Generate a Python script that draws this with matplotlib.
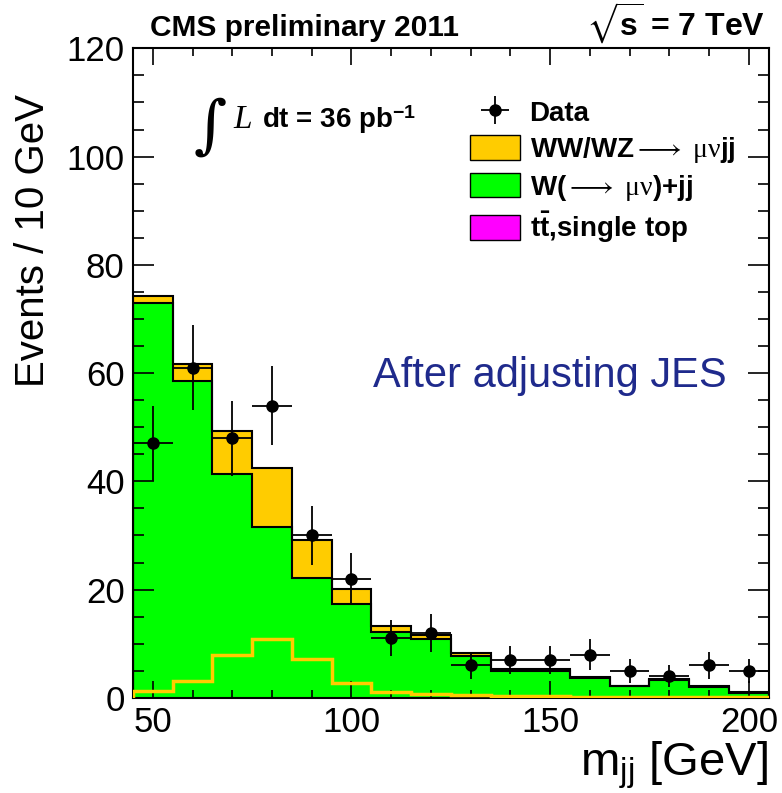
import numpy as np
import matplotlib
matplotlib.use("Agg")
import matplotlib.pyplot as plt
from matplotlib.ticker import MultipleLocator
from matplotlib.patches import Patch

plt.rcParams['font.family'] = ['Liberation Sans', 'DejaVu Sans']
plt.rcParams['mathtext.fontset'] = 'custom'
plt.rcParams['mathtext.rm'] = 'Liberation Serif'
plt.rcParams['mathtext.it'] = 'Liberation Serif:italic'
plt.rcParams['mathtext.bf'] = 'Liberation Sans:bold'
plt.rcParams['mathtext.fallback'] = 'stix'

# Data (bins of 10 GeV from 45 to 205)
bin_edges = [45, 55, 65, 75, 85, 95, 105, 115, 125, 135, 145, 155, 165, 175, 185, 195, 205]
bin_centers = [50, 60, 70, 80, 90, 100, 110, 120, 130, 140, 150, 160, 170, 180, 190, 200]
data = [47, 61, 48, 54, 30, 22, 11, 12, 6, 7, 7, 8, 5, 4, 6, 5]
wjj = [73.0, 58.5, 41.3, 31.6, 22.1, 17.4, 12.1, 10.9, 7.7, 5.0, 5.0, 3.7, 2.1, 3.3, 2.05, 0.9]
diboson = [1.2, 3.2, 8.0, 10.9, 7.1, 2.7, 1.1, 0.8, 0.5, 0.3, 0.3, 0.2, 0.15, 0.15, 0.1, 0.1]
ttbar = [0.0, 0.0, 0.0, 0.0, 0.0, 0.0, 0.0, 0.0, 0.0, 0.0, 0.0, 0.0, 0.0, 0.0, 0.0, 0.0]

edges = np.array(bin_edges)
top_stack = np.array(ttbar)
green_stack = top_stack + np.array(wjj)
total = green_stack + np.array(diboson)

fig = plt.figure(figsize=(7.82, 7.93), dpi=100)
ax = fig.add_axes([0.170, 0.120, 0.813, 0.819])

ax.stairs(total, edges, fill=True, facecolor='#ffcc00', edgecolor='none')
ax.stairs(green_stack, edges, fill=True, facecolor='#00ff00', edgecolor='none')
ax.stairs(top_stack, edges, fill=True, facecolor='#ff00ff', edgecolor='none')
ax.stairs(total, edges, color='black', lw=1.5)
ax.stairs(green_stack, edges, color='black', lw=1.5)
ax.stairs(diboson, edges, color='#ffcc00', lw=2.5, zorder=3)

err = ax.errorbar(bin_centers, data, yerr=np.sqrt(data), xerr=5, fmt='o', color='black',
                  ms=8, elinewidth=1.3, capsize=0, zorder=5, label='Data')

ax.set_xlim(45, 205)
ax.set_ylim(0, 120)
ax.xaxis.set_major_locator(MultipleLocator(50))
ax.xaxis.set_minor_locator(MultipleLocator(10))
ax.yaxis.set_major_locator(MultipleLocator(20))
ax.yaxis.set_minor_locator(MultipleLocator(5))
ax.tick_params(which='both', direction='in', top=True, right=True, width=1.2, labelsize=25)
ax.tick_params(axis='x', which='major', length=12, pad=6)
ax.tick_params(axis='x', which='minor', length=6)
ax.tick_params(axis='y', which='major', length=15, pad=6)
ax.tick_params(axis='y', which='minor', length=8)
for s in ax.spines.values():
    s.set_linewidth(1.5)

fig.text(33 / 782, 1 - 94 / 793, 'Events / 10 GeV', rotation=90, ha='center', va='top', fontsize=29)
fig.text(768 / 782, 1 - 776 / 793, r'm$_{\mathregular{jj}}$ [GeV]', ha='right', va='baseline', fontsize=34)

fig.text(150 / 782, 1 - 36 / 793, 'CMS preliminary 2011', fontsize=21.5, fontweight='bold', va='baseline')
fig.text(765 / 782, 1 - 36 / 793, r'$\sqrt{\mathbf{s}}$ = 7 TeV', fontsize=23, fontweight='bold',
         ha='right', va='baseline')

fig.text(194 / 782, 1 - 146 / 793, '\u222b', fontsize=46, family='DejaVu Serif', va='baseline')
fig.text(233 / 782, 1 - 128 / 793, r'$L$', fontsize=24, va='baseline')
fig.text(262 / 782, 1 - 128 / 793, r'dt = 36 pb$^{\mathbf{-1}}$', fontsize=20, fontweight='bold', va='baseline')

fig.text(373 / 782, 1 - 387 / 793, 'After adjusting JES', fontsize=30, color='#1f2a8c', va='baseline')

handles = [err,
           Patch(facecolor='#ffcc00', edgecolor='black', lw=1),
           Patch(facecolor='#00ff00', edgecolor='black', lw=1),
           Patch(facecolor='#ff00ff', edgecolor='black', lw=1)]
labels = ['Data',
          r'WW/WZ$\longrightarrow$ $\mathrm{\mu\nu}$jj',
          r'W($\longrightarrow$ $\mathrm{\mu\nu}$)+jj',
          r't$\mathbf{\bar{t}}$,single top']
leg = ax.legend(handles, labels, loc='upper left', bbox_to_anchor=(0.53, 0.922), frameon=False,
                prop={'size': 20, 'weight': 'bold'}, handlelength=1.8, handleheight=1.0,
                labelspacing=0.28, handletextpad=0.35, borderpad=0, borderaxespad=0)

fig.savefig('out.png', dpi=100)
